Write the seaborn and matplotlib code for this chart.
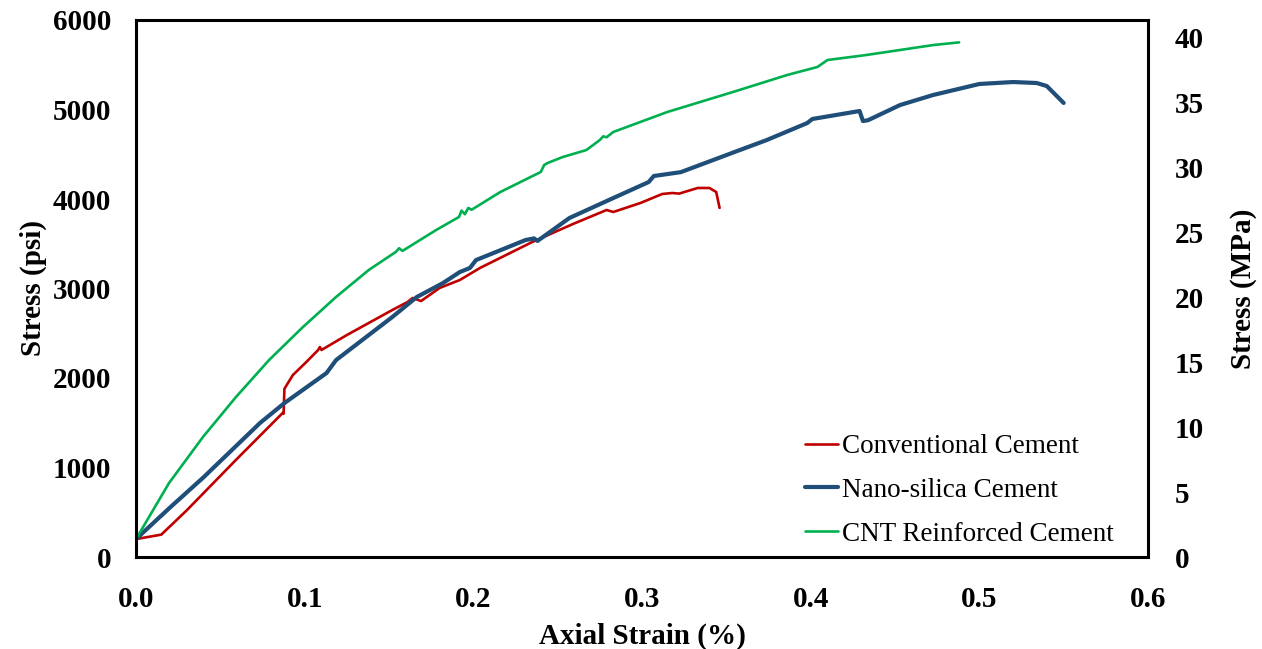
import numpy as np
import pandas as pd
import matplotlib
matplotlib.use("Agg")
import matplotlib.pyplot as plt
import seaborn as sns

# ---- data ----
conv_strain = [0.000, 0.015, 0.030, 0.059, 0.087, 0.0875, 0.0880, 0.093, 0.101, 0.108, 0.109, 0.110,
               0.125, 0.152, 0.161, 0.164, 0.169, 0.180, 0.192, 0.204, 0.235, 0.259, 0.279, 0.283,
               0.299, 0.312, 0.318, 0.322, 0.333, 0.340, 0.344, 0.346]
conv_psi = [200, 250, 520, 1080, 1610, 1600, 1880, 2033, 2179, 2313, 2346, 2313,
            2480, 2760, 2849, 2894, 2860, 3006, 3095, 3230, 3520, 3720, 3877, 3855,
            3955, 4056, 4067, 4060, 4123, 4123, 4078, 3900]

nano_strain = [0.000, 0.020, 0.040, 0.0735, 0.088, 0.113, 0.1186, 0.152, 0.1665, 0.182, 0.192,
               0.198, 0.2016, 0.209, 0.231, 0.236, 0.238, 0.257, 0.283, 0.304, 0.307, 0.323,
               0.358, 0.374, 0.398, 0.401, 0.429, 0.431, 0.434, 0.453, 0.4726, 0.500, 0.520,
               0.534, 0.540, 0.550]
nano_psi = [200, 550, 890, 1497, 1720, 2056, 2200, 2682, 2905, 3061, 3184,
            3230, 3318, 3374, 3542, 3560, 3531, 3788, 4011, 4190, 4257, 4300,
            4547, 4659, 4849, 4894, 4983, 4871, 4880, 5050, 5162, 5285, 5307,
            5296, 5262, 5073]

cnt_strain = [0.000, 0.0196, 0.0397, 0.0593, 0.0789, 0.099, 0.1186, 0.138, 0.154, 0.156, 0.158,
              0.178, 0.1915, 0.193, 0.195, 0.197, 0.199, 0.216, 0.240, 0.242, 0.244, 0.253,
              0.267, 0.275, 0.277, 0.279, 0.283, 0.315, 0.354, 0.386, 0.404, 0.410, 0.433,
              0.473, 0.488]
cnt_psi = [200, 827, 1341, 1788, 2201, 2570, 2905, 3207, 3408, 3450, 3420,
           3654, 3799, 3870, 3830, 3900, 3880, 4078, 4302, 4380, 4402, 4469,
           4547, 4659, 4700, 4690, 4749, 4972, 5196, 5385, 5475, 5553, 5609,
           5721, 5750]

series_names = ["Conventional Cement", "Nano-silica Cement", "CNT Reinforced Cement"]
series_colors = ["#C00000", "#1F4E79", "#00B050"]
series_widths = [1.9, 3.0, 1.9]

x_ticks = [0.0, 0.1, 0.2, 0.3, 0.4, 0.5, 0.6]
y_ticks = [0, 1000, 2000, 3000, 4000, 5000, 6000]
y2_ticks = [0, 5, 10, 15, 20, 25, 30, 35, 40]
PSI_TO_MPA = 0.00689476

sns.set_style("white")
plt.rcParams["font.family"] = ["Liberation Serif", "DejaVu Serif"]
plt.rcParams["text.color"] = "black"
plt.rcParams["axes.labelcolor"] = "black"
plt.rcParams["xtick.color"] = "black"
plt.rcParams["ytick.color"] = "black"

fig = plt.figure(figsize=(12.62, 6.49), dpi=100)
ax = fig.add_axes([136 / 1262, 1 - 557 / 649, (1148 - 136) / 1262, (557 - 20) / 649])

data = [(conv_strain, conv_psi), (nano_strain, nano_psi), (cnt_strain, cnt_psi)]
for (xs, ys), name, col, lw in zip(data, series_names, series_colors, series_widths):
    df = pd.DataFrame({"strain": xs, "psi": ys})
    sns.lineplot(data=df, x="strain", y="psi", ax=ax, color=col, linewidth=lw,
                 sort=False, estimator=None, label=name)

ax.set_xlim(0, 0.6)
ax.set_ylim(0, 6000)
ax.set_xticks(x_ticks)
ax.set_xticklabels([f"{v:.1f}" for v in x_ticks])
ax.set_yticks(y_ticks)
ax.set_yticklabels([str(v) for v in y_ticks])
ax.tick_params(axis="both", length=0, labelsize=21, colors="black")
ax.tick_params(axis="x", pad=21)
ax.tick_params(axis="y", pad=18)
for lab in ax.get_xticklabels() + ax.get_yticklabels():
    lab.set_fontweight("bold")
ax.set_xlabel("Axial Strain (%)", fontsize=21, fontweight="bold", labelpad=7, color="black")
ax.set_ylabel("Stress (psi)", fontsize=21, fontweight="bold", labelpad=4, color="black")
for s in ax.spines.values():
    s.set_visible(True)
    s.set_color("black")
    s.set_linewidth(2.2)

ax2 = ax.twinx()
ax2.set_ylim(0, 6000 * PSI_TO_MPA)
ax2.set_yticks(y2_ticks)
ax2.set_yticklabels([str(v) for v in y2_ticks])
ax2.tick_params(axis="y", length=0, labelsize=21, pad=19, colors="black")
for lab in ax2.get_yticklabels():
    lab.set_fontweight("bold")
ax2.set_ylabel("Stress (MPa)", fontsize=21, fontweight="bold", labelpad=19, color="black")
for s in ax2.spines.values():
    s.set_visible(False)

handles, labels = ax.get_legend_handles_labels()
leg = ax.legend(handles, labels, loc="upper left", bbox_to_anchor=(805 / 1262, 1 - 434 / 649),
                bbox_transform=fig.transFigure, frameon=False, fontsize=19.5,
                handlelength=1.2, handletextpad=0.15, labelspacing=0.7, borderpad=0, borderaxespad=0)
for t in leg.get_texts():
    t.set_color("black")

fig.savefig("out.png", dpi=100)
